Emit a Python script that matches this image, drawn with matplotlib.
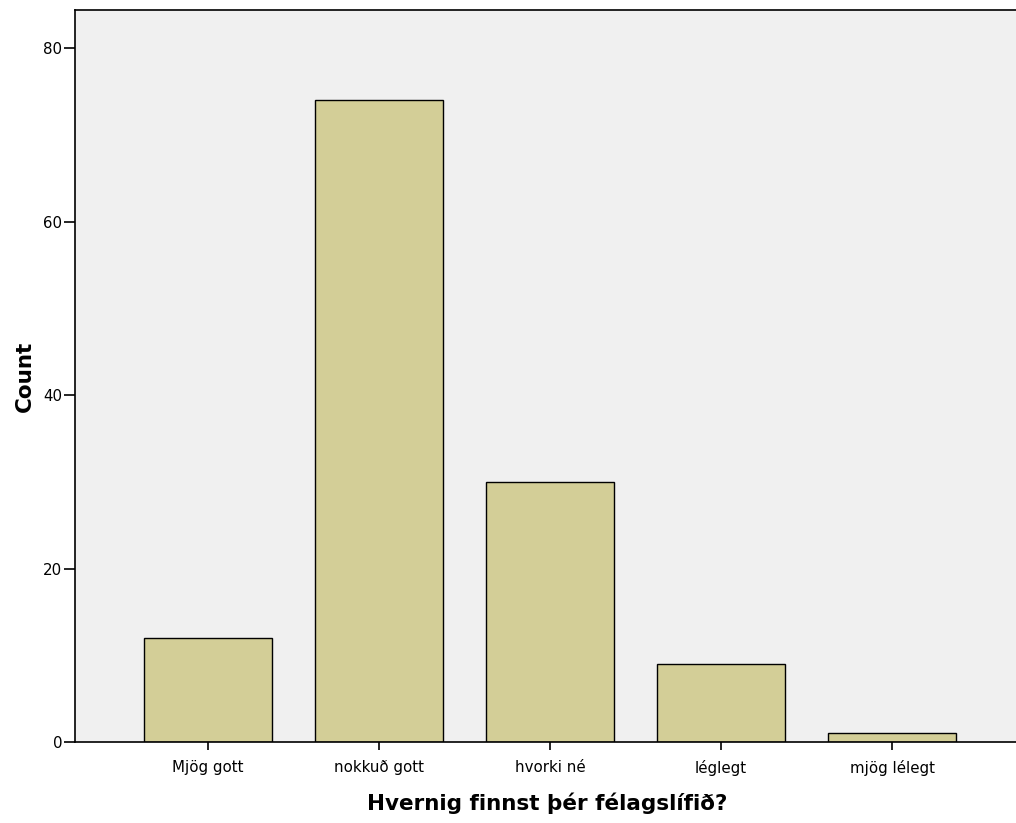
import matplotlib
matplotlib.use("Agg")
import matplotlib.pyplot as plt

# svör við spurningunni
categories = ["Mjög gott", "nokkuð gott", "hvorki né", "léglegt", "mjög lélegt"]
counts = [12, 74, 30, 9, 1]
yticks = [0, 20, 40, 60, 80]

plt.rcParams['font.family'] = ['DejaVu Sans']

fig = plt.figure(figsize=(10.16, 8.23), dpi=100)
ax = fig.add_axes([0.0738, 0.0984, 0.93, 0.8894])
ax.set_facecolor('#F0F0F0')

x = list(range(len(categories)))
ax.bar(x, counts, width=0.75, color='#D3CE97', edgecolor='black', linewidth=1.0, zorder=2)

ax.set_xlim(-0.778, -0.778 + 0.93 * 1016 / 171)
ax.set_ylim(0, 84.4)
ax.set_xticks(x)
ax.set_xticklabels(categories, fontsize=10.8)
ax.set_yticks(yticks)
ax.set_yticklabels([str(v) for v in yticks], fontsize=10.8)
ax.tick_params(axis='y', direction='out', length=8, width=1.2, color='black', pad=1)
ax.tick_params(axis='x', direction='out', length=6, width=1.2, color='black', pad=7)

ax.spines['right'].set_visible(False)
for s in ['left', 'top', 'bottom']:
    ax.spines[s].set_linewidth(1.2)

ax.set_ylabel("Count", fontsize=15.5, fontweight='bold', labelpad=6)
ax.set_xlabel("Hvernig finnst þér félagslífið?", fontsize=15.5, fontweight='bold', labelpad=12)

fig.savefig("out.png", dpi=100)
